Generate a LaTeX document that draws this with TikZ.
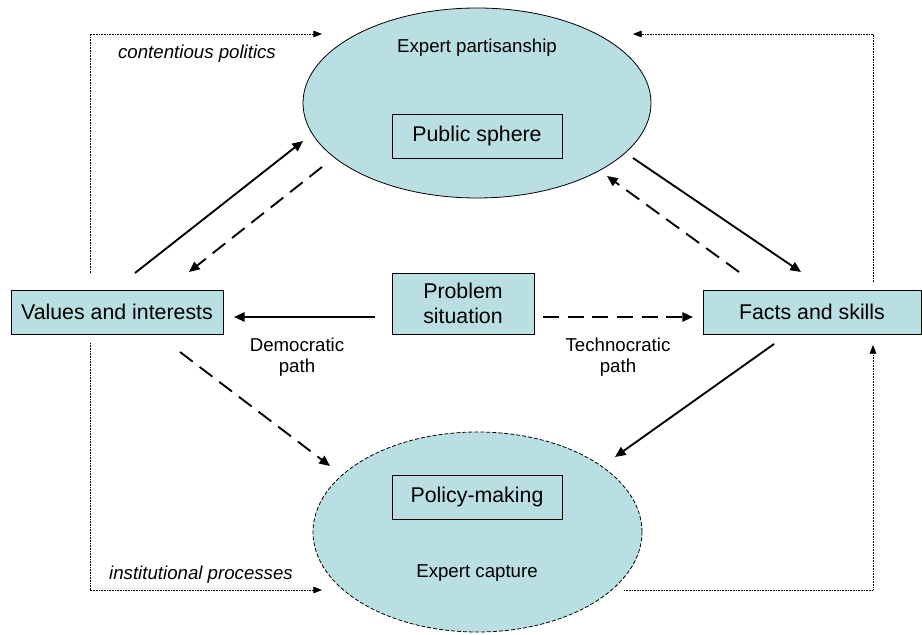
\documentclass[tikz,border=0pt]{standalone}
\usepackage{fontspec}
\setmainfont{Liberation Sans}
\usetikzlibrary{arrows.meta,calc,shapes.geometric}
\definecolor{paleblue}{RGB}{185,223,227}

\begin{document}
\begin{tikzpicture}[x=0.75pt,y=-0.75pt,
    blob/.style={ellipse, draw, fill=paleblue, line width=0.6pt, inner sep=0pt, outer sep=0pt},
    box/.style={rectangle, draw, line width=0.6pt, inner sep=0pt, outer sep=0pt, font=\fontsize{16}{19}\selectfont, align=center},
    note/.style={font=\fontsize{14}{16}\selectfont, align=center},
    solidarr/.style={line width=1.4pt, -{Triangle[length=8pt,width=7pt]}},
    dasharr/.style={solidarr, dash pattern=on 12pt off 6.5pt},
    dotarr/.style={line width=0.6pt, dash pattern=on 0.6pt off 0.6pt, -{Triangle[length=6.5pt,width=5pt]}}]
    \path[use as bounding box, fill=white] (0,0) rectangle (922,635);

    % the two arenas
    \node[blob, minimum width=261pt, minimum height=142.5pt] (pubE) at (477,103) {};
    \node[blob, dash pattern=on 3pt off 1.5pt, minimum width=246.75pt, minimum height=150pt] (polE) at (477.5,532) {};
    \node[box, minimum width=127.5pt, minimum height=33pt] (pub) at (477,136) {Public sphere};
    \node[box, minimum width=127.5pt, minimum height=33pt] (pol) at (477,497) {Policy-making};
    \node[note] (partisan) at (477,48) {Expert partisanship};
    \node[note] (capture) at (477,573) {Expert capture};

    % middle row
    \node[box, fill=paleblue, minimum width=159pt, minimum height=33pt] (val) at (117,312) {Values and interests};
    \node[box, fill=paleblue, minimum width=106.5pt, minimum height=45.75pt] (prob) at (463,303.5) {Problem\\situation};
    \node[box, fill=paleblue, minimum width=163.5pt, minimum height=33pt] (fac) at (812,312) {Facts and skills};
    \node[note] (dem) at (297,357) {Democratic\\path};
    \node[note] (tec) at (618,357) {Technocratic\\path};
    \node[note] (contend) at (197,54) {\itshape contentious politics};
    \node[note] (instit) at (201,575) {\itshape institutional processes};

    \draw[solidarr] ($(prob.west)+(-17,13.5)$) -- ($(val.east)+(11,5)$);
    \draw[dasharr] ($(prob.east)+(9,13.5)$) -- ($(fac.west)+(-10,5)$);

    \draw[solidarr] ($(val.north)+(18,-17)$) -- ($(pubE.west)+(0,38)$);
    \draw[dasharr] ($(pubE.west)+(19,64)$) -- ($(val.north)+(72,-18)$);
    \draw[solidarr] ($(pubE.east)+(-18,55)$) -- ($(fac.north)+(-11,-18)$);
    \draw[dasharr] ($(fac.north)+(-73,-18)$) -- ($(pubE.east)+(-44,73)$);
    \draw[dasharr] ($(val.south)+(63,18)$) -- ($(polE.west)+(17,-66)$);
    \draw[solidarr] ($(fac.south)+(-38,10)$) -- ($(polE.east)+(-27,-75)$);

    % dotted loops round the outside
    \draw[dotarr] ($(val.north)+(-27,-17)$) |- ($(pubE.west)+(19,-69)$);
    \draw[dotarr] ($(fac.north)+(61,-8)$) |- ($(pubE.east)+(-18,-69)$);
    \draw[dotarr] ($(val.south)+(-27,9)$) |- ($(polE.west)+(9,58)$);
    \draw[dotarr] ($(polE.east)+(-18,58)$) -| ($(fac.south)+(61,11)$);
\end{tikzpicture}
\end{document}
